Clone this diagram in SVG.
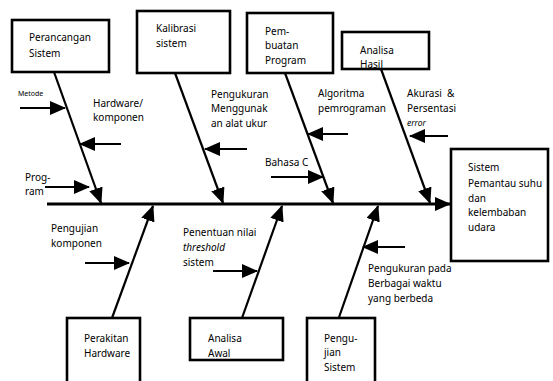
<svg xmlns="http://www.w3.org/2000/svg" width="553" height="381" viewBox="0 0 553 381">
<defs>
<marker id="ahb" markerWidth="16" markerHeight="14" refX="15" refY="7" orient="auto" markerUnits="userSpaceOnUse" viewBox="0 0 16 14">
<path d="M0,0 L16,7 L0,14 Z" fill="#000"/>
</marker>
<marker id="ahs" markerWidth="16" markerHeight="14" refX="15" refY="7" orient="auto" markerUnits="userSpaceOnUse" viewBox="0 0 16 14">
<path d="M0,0 L16,7 L0,14 Z" fill="#000"/>
</marker>
</defs>
<style>
.box{fill:#fff;stroke:#000;stroke-width:2.6}
.t{font-family:"Noto Sans","Open Sans",sans-serif;font-size:10px;fill:#000}
.i{font-style:italic}
.bone{stroke:#000;stroke-width:2.2;fill:none;marker-end:url(#ahb)}
.sm{stroke:#000;stroke-width:2.2;fill:none;marker-end:url(#ahs)}
.spine{stroke:#000;stroke-width:3;fill:none;marker-end:url(#ahb)}
</style>
<rect width="553" height="381" fill="#fff"/>

<g id="connectors">
<line class="spine" x1="47" y1="204" x2="450" y2="204"/>
<line class="bone" x1="54" y1="72" x2="101" y2="203"/>
<line class="bone" x1="175" y1="73" x2="223" y2="203"/>
<line class="bone" x1="285" y1="73" x2="333" y2="203"/>
<line class="bone" x1="381" y1="69" x2="430" y2="203"/>
<line class="bone" x1="112" y1="318" x2="153" y2="206"/>
<line class="bone" x1="242" y1="318" x2="282" y2="206"/>
<line class="bone" x1="337" y1="323" x2="378" y2="206"/>
<line class="sm" x1="20" y1="108" x2="65" y2="108"/>
<line class="sm" x1="121" y1="144" x2="80" y2="144"/>
<line class="sm" x1="45" y1="187" x2="89" y2="187"/>
<line class="sm" x1="247" y1="149" x2="205" y2="149"/>
<line class="sm" x1="348" y1="134" x2="308" y2="134"/>
<line class="sm" x1="271" y1="177" x2="323" y2="177"/>
<line class="sm" x1="448" y1="136" x2="410" y2="136"/>
<line class="sm" x1="85" y1="263" x2="129" y2="263"/>
<line class="sm" x1="213" y1="271" x2="257" y2="271"/>
<line class="sm" x1="405" y1="247" x2="363" y2="247"/>
</g>

<g id="perancangan">
<rect class="box" x="12" y="20" width="97" height="52"/>
<text class="t" x="29" y="41">Perancangan</text>
<text class="t" x="29" y="57">Sistem</text>
</g>
<g id="kalibrasi">
<rect class="box" x="137" y="11" width="93" height="62"/>
<text class="t" x="156" y="32">Kalibrasi</text>
<text class="t" x="156" y="47">sistem</text>
</g>
<g id="pembuatan">
<rect class="box" x="247" y="13" width="86" height="60"/>
<text class="t" x="265" y="35">Pem-</text>
<text class="t" x="265" y="49">buatan</text>
<text class="t" x="265" y="64">Program</text>
</g>
<g id="analisa-hasil">
<rect class="box" x="342" y="32" width="87" height="37"/>
<text class="t" x="360" y="54">Analisa</text>
<text class="t" x="360" y="68">Hasil</text>
</g>
<g id="sistem-pemantau">
<rect class="box" x="451" y="149" width="97" height="112"/>
<text class="t" x="468" y="171">Sistem</text>
<text class="t" x="468" y="187">Pemantau suhu</text>
<text class="t" x="468" y="202">dan</text>
<text class="t" x="468" y="216">kelembaban</text>
<text class="t" x="468" y="231">udara</text>
</g>
<g id="perakitan">
<rect class="box" x="67" y="318" width="73" height="66"/>
<text class="t" x="84" y="342">Perakitan</text>
<text class="t" x="84" y="357">Hardware</text>
</g>
<g id="analisa-awal">
<rect class="box" x="190" y="318" width="93" height="42"/>
<text class="t" x="208" y="342">Analisa</text>
<text class="t" x="208" y="357">Awal</text>
</g>
<g id="pengujian-sistem">
<rect class="box" x="307" y="318" width="68" height="66"/>
<text class="t" x="324" y="342">Pengu-</text>
<text class="t" x="324" y="356">jian</text>
<text class="t" x="324" y="371">Sistem</text>
</g>

<g id="labels">
<text class="t" x="18" y="96" style="font-size:7px">Metode</text>
<text class="t" x="93" y="107">Hardware/</text>
<text class="t" x="93" y="121">komponen</text>
<text class="t" x="211" y="98">Pengukuran</text>
<text class="t" x="211" y="112">Menggunak</text>
<text class="t" x="211" y="127">an alat ukur</text>
<text class="t" x="318" y="97">Algoritma</text>
<text class="t" x="318" y="112">pemrograman</text>
<text class="t" x="407" y="97">Akurasi&#160;&#160;&amp;</text>
<text class="t" x="407" y="112">Persentasi</text>
<text class="t i" x="407" y="126" style="font-size:8.5px">error</text>
<text class="t" x="25" y="181">Prog-</text>
<text class="t" x="25" y="195">ram</text>
<text class="t" x="265" y="166">Bahasa C</text>
<text class="t" x="51" y="232">Pengujian</text>
<text class="t" x="51" y="247">komponen</text>
<text class="t" x="183" y="236">Penentuan nilai</text>
<text class="t i" x="183" y="251">threshold</text>
<text class="t" x="183" y="266">sistem</text>
<text class="t" x="368" y="272">Pengukuran pada</text>
<text class="t" x="368" y="287">Berbagai waktu</text>
<text class="t" x="368" y="302">yang berbeda</text>
</g>
</svg>
